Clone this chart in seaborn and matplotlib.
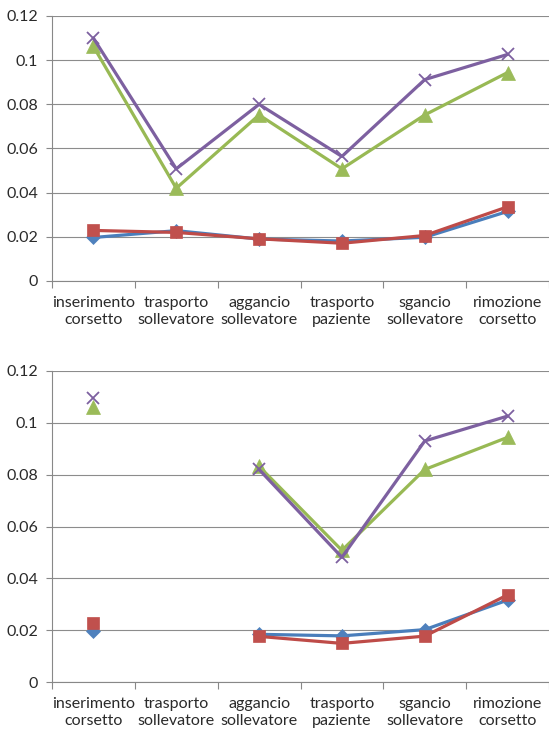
import numpy as np
import pandas as pd
import matplotlib
matplotlib.use("Agg")
import matplotlib.pyplot as plt
import seaborn as sns

# Task categories along the x axis
categories = ["inserimento\ncorsetto", "trasporto\nsollevatore", "aggancio\nsollevatore",
              "trasporto\npaziente", "sgancio\nsollevatore", "rimozione\ncorsetto"]

# Upper panel series
top_blue = [0.0197, 0.0228, 0.0190, 0.0181, 0.0198, 0.0315]
top_red = [0.0229, 0.0220, 0.0191, 0.0171, 0.0206, 0.0336]
top_green = [0.1062, 0.0420, 0.0752, 0.0508, 0.0752, 0.0944]
top_purple = [0.1100, 0.0508, 0.0800, 0.0564, 0.0912, 0.1026]

# Lower panel series (no value for the second task)
bot_blue = [0.0197, np.nan, 0.0184, 0.0178, 0.0202, 0.0316]
bot_red = [0.0229, np.nan, 0.0176, 0.0149, 0.0177, 0.0336]
bot_green = [0.1062, np.nan, 0.0832, 0.0508, 0.0820, 0.0944]
bot_purple = [0.1096, np.nan, 0.0820, 0.0481, 0.0930, 0.1026]

y_ticks = [0, 0.02, 0.04, 0.06, 0.08, 0.1, 0.12]
y_tick_labels = ["0", "0.02", "0.04", "0.06", "0.08", "0.1", "0.12"]

sns.set_theme(style="white")
plt.rcParams["font.family"] = ["Lato", "DejaVu Sans"]

styles = [
    dict(color="#4A7EBB", mfc="#4F81BD", marker="D", ms=7.0),
    dict(color="#BE4B48", mfc="#C0504D", marker="s", ms=9.0),
    dict(color="#98B954", mfc="#9BBB59", marker="^", ms=10.0),
    dict(color="#7D60A0", mfc="#7D60A0", marker="x", ms=9.0),
]

fig = plt.figure(figsize=(5.49, 7.33), dpi=100)
ax_top = fig.add_axes([52 / 549, 1 - 281 / 733, 497 / 549, 265 / 733])
ax_bot = fig.add_axes([52 / 549, 1 - 682 / 733, 497 / 549, 311 / 733])


def draw_series(ax, values, st):
    x = np.arange(len(values))
    v = np.asarray(values, dtype=float)
    ok = ~np.isnan(v)
    # split into contiguous runs so gaps stay open
    runs, cur = [], []
    for i in range(len(v)):
        if ok[i]:
            cur.append(i)
        elif cur:
            runs.append(cur)
            cur = []
    if cur:
        runs.append(cur)
    for r in runs:
        df = pd.DataFrame({"x": x[r], "y": v[r]})
        mk = st["marker"]
        kw = dict(marker=mk, markersize=st["ms"], markerfacecolor=st["mfc"],
                  markeredgecolor=st["mfc"])
        if mk == "x":
            kw["markeredgewidth"] = 1.3
        else:
            kw["markeredgewidth"] = 0.5
        sns.lineplot(data=df, x="x", y="y", ax=ax, color=st["color"], linewidth=2.3,
                     sort=False, estimator=None, legend=False, **kw)


def style_axes(ax):
    ax.set_xlim(-0.5, 5.5)
    ax.set_ylim(0, 0.12)
    ax.set_yticks(y_ticks)
    ax.set_yticklabels(y_tick_labels, fontsize=11.5, color="#2a2a2a")
    ax.set_xticks(np.arange(-0.5, 6.0, 1.0))
    ax.set_xticklabels([""] * 7)
    ax.set_xticks(np.arange(6), minor=True)
    ax.set_xticklabels(categories, minor=True, fontsize=11.5, color="#2a2a2a",
                       linespacing=1.25)
    ax.tick_params(axis="x", which="minor", length=0, pad=11)
    ax.tick_params(axis="x", which="major", length=5, width=0.8, color="#888888",
                   direction="out", bottom=True)
    ax.tick_params(axis="y", which="major", length=4, width=0.8, color="#888888",
                   direction="out", left=True, pad=6)
    ax.grid(axis="y", color="#8c8c8c", linewidth=0.8)
    ax.set_axisbelow(True)
    for side in ["top", "right"]:
        ax.spines[side].set_visible(False)
    for side in ["left", "bottom"]:
        ax.spines[side].set_color("#888888")
        ax.spines[side].set_linewidth(0.8)
    ax.set_xlabel("")
    ax.set_ylabel("")


for ax, series in [(ax_top, [top_blue, top_red, top_green, top_purple]),
                   (ax_bot, [bot_blue, bot_red, bot_green, bot_purple])]:
    for vals, st in zip(series, styles):
        draw_series(ax, vals, st)
    style_axes(ax)

fig.savefig("out.png", dpi=100, facecolor="white")
